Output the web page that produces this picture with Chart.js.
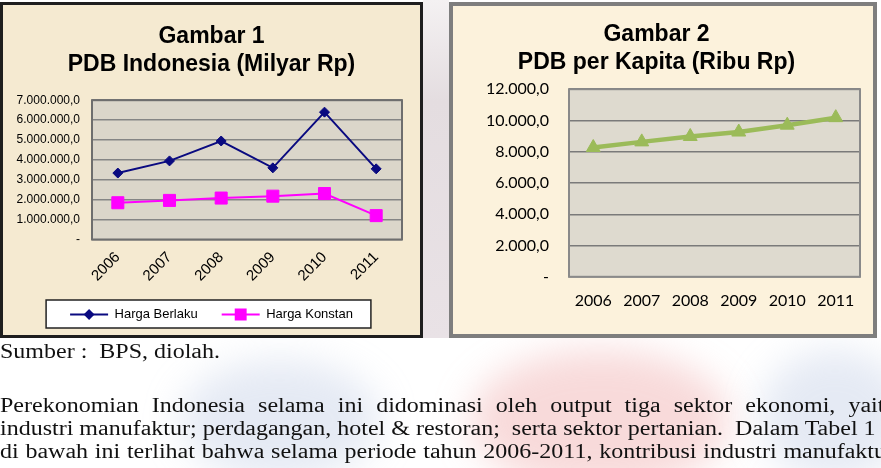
<!DOCTYPE html>
<html>
<head>
<meta charset="utf-8">
<script src="https://cdn.jsdelivr.net/npm/chart.js@4.4.1/dist/chart.umd.min.js"></script>
<style>
  html, body { margin: 0; padding: 0; }
  body {
    width: 881px; height: 468px; overflow: hidden; position: relative;
    background: #fff;
  }
  .wm { position: absolute; border-radius: 50%; filter: blur(18px); }
  .box { position: absolute; box-sizing: border-box; }
  #box1 { left: 0; top: 2px; width: 423px; height: 336px; border: 3px solid #1e1e1e; background: #f5ead1; }
  #box2 { left: 449px; top: 2px; width: 428px; height: 336px; border: 4px solid #7e7e7e; background: #fcf2dc; }
  .box canvas { display: block; }
  .txt { position: absolute; left: 0; font-family: "Liberation Serif", "Times New Roman", serif; font-size: 20px; line-height: 23px; color: #111; white-space: nowrap; transform: scaleX(1.2); transform-origin: 0 0; }
  .just { text-align: justify; text-align-last: justify; white-space: normal; }
</style>
</head>
<body>
<div class="wm" style="left:423px;top:0;width:26px;height:338px;background:linear-gradient(#f4f1f2,#e4dde0 30%,#e9e2e6);border-radius:0;filter:none"></div>
<div class="wm" style="left:470px;top:350px;width:260px;height:140px;background:rgba(235,150,150,0.35)"></div>
<div class="wm" style="left:180px;top:360px;width:200px;height:120px;background:rgba(170,185,220,0.30)"></div>
<div class="wm" style="left:760px;top:350px;width:150px;height:130px;background:rgba(170,185,220,0.30)"></div>

<div class="box" id="box1"><canvas id="c1" width="417" height="330"></canvas></div>
<div class="box" id="box2"><canvas id="c2" width="420" height="328"></canvas></div>

<div class="txt" style="top:340px">Sumber :&nbsp; BPS, diolah.</div>
<div class="txt just" style="top:394px;width:747px">Perekonomian Indonesia selama ini didominasi oleh output tiga sektor ekonomi, yaitu</div>
<div class="txt" style="top:417px">industri manufaktur; perdagangan, hotel &amp; restoran;&nbsp; serta sektor pertanian.&nbsp; Dalam Tabel 1</div>
<div class="txt just" style="top:440px;width:745px">di bawah ini terlihat bahwa selama periode tahun 2006-2011, kontribusi industri manufaktur</div>

<script>
const years = ['2006', '2007', '2008', '2009', '2010', '2011'];
const hargaBerlaku = [3339000, 3950000, 4950000, 3600000, 6400000, 3550000];
const hargaKonstan = [1847000, 1964000, 2082000, 2178000, 2310000, 1200000];
const perKapita = [8270, 8630, 8975, 9260, 9700, 10180];

function fmt(v) {
  if (v === 0) return '-';
  return Math.round(v).toString().replace(/\B(?=(\d{3})+(?!\d))/g, '.') + ',0';
}

// plot area background + frame
const plotBox = {
  id: 'plotBox',
  beforeDraw(chart, args, opts) {
    const a = chart.chartArea, ctx = chart.ctx;
    ctx.save();
    ctx.fillStyle = opts.fill;
    ctx.fillRect(a.left, a.top, a.right - a.left, a.bottom - a.top);
    ctx.restore();
  },
  beforeDatasetsDraw(chart, args, opts) {
    const a = chart.chartArea, ctx = chart.ctx;
    ctx.save();
    ctx.strokeStyle = opts.stroke;
    ctx.lineWidth = opts.width;
    ctx.strokeRect(a.left, a.top, a.right - a.left, a.bottom - a.top);
    ctx.restore();
  }
};

// excel-like legend: line through marker, framed box
function legendRect(hb) {
  const last = hb[hb.length - 1];
  return {
    l: hb[0].left - 24,
    r: last.left + last.width + 18,
    t: hb[0].top - 8,
    b: hb[0].top + hb[0].height + 7
  };
}
const legendFrame = {
  id: 'legendFrame',
  beforeDraw(chart) {
    const lg = chart.legend;
    if (!lg || !lg.legendHitBoxes || !lg.legendHitBoxes.length) return;
    const r = legendRect(lg.legendHitBoxes), ctx = chart.ctx;
    ctx.save();
    ctx.fillStyle = '#fff';
    ctx.fillRect(r.l, r.t, r.r - r.l, r.b - r.t);
    ctx.restore();
  },
  afterDraw(chart) {
    const lg = chart.legend;
    if (!lg || !lg.legendHitBoxes || !lg.legendHitBoxes.length) return;
    const ctx = chart.ctx;
    const hb = lg.legendHitBoxes;
    ctx.save();
    hb.forEach((b, i) => {
      const ds = chart.data.datasets[i];
      const y = b.top + b.height / 2;
      ctx.strokeStyle = ds.borderColor;
      ctx.lineWidth = 2;
      ctx.beginPath();
      ctx.moveTo(b.left, y);
      ctx.lineTo(b.left + 38, y);
      ctx.stroke();
      ctx.fillStyle = ds.backgroundColor;
      Chart.helpers.drawPoint(ctx, {
        pointStyle: ds.pointStyle, radius: ds.legendRadius, rotation: 0, borderWidth: 1
      }, b.left + 19, y);
    });
    const r = legendRect(hb);
    ctx.strokeStyle = '#222';
    ctx.lineWidth = 1.5;
    ctx.strokeRect(r.l, r.t, r.r - r.l, r.b - r.t);
    ctx.restore();
  }
};

const arial = "'Liberation Sans', Arial, sans-serif";

new Chart(document.getElementById('c1'), {
  type: 'line',
  data: {
    labels: years,
    datasets: [{
      label: 'Harga Berlaku',
      data: hargaBerlaku,
      borderColor: '#0a0a80',
      backgroundColor: '#0a0a80',
      borderWidth: 2,
      pointStyle: 'rectRot',
      pointRadius: 5,
      legendRadius: 4,
      pointBorderWidth: 1,
      tension: 0
    }, {
      label: 'Harga Konstan',
      data: hargaKonstan,
      borderColor: '#ff00ff',
      backgroundColor: '#ff00ff',
      borderWidth: 2,
      pointStyle: 'rect',
      pointRadius: 8.5,
      legendRadius: 7,
      pointBorderWidth: 1,
      tension: 0
    }]
  },
  options: {
    responsive: false,
    animation: false,
    devicePixelRatio: 1,
    layout: { padding: { left: 0, right: 0, top: 0, bottom: 4 } },
    scales: {
      x: {
        offset: true,
        grid: { display: false, drawTicks: false },
        border: { display: false },
        ticks: { color: '#000', font: { family: arial, size: 15 }, minRotation: 45, maxRotation: 45, padding: 9 },
        afterFit(s) { s.height = 44.5; }
      },
      y: {
        min: 0, max: 7000000,
        grid: { color: '#858585', lineWidth: 1.5, drawTicks: false },
        border: { display: false },
        ticks: { stepSize: 1000000, color: '#000', font: { family: arial, size: 12 }, padding: 12, callback: v => fmt(v) },
        afterFit(s) { s.width = 89; }
      },
      // empty spacer on the right so the legend stays centred on the whole frame
      yR: {
        type: 'linear', position: 'right',
        grid: { display: false, drawTicks: false },
        border: { display: false },
        ticks: { display: false },
        afterFit(s) { s.width = 18; }
      }
    },
    plugins: {
      plotBox: { fill: '#dbd6ca', stroke: '#6e6e6e', width: 2 },
      title: {
        display: true,
        text: ['Gambar 1', 'PDB Indonesia (Milyar Rp)'],
        color: '#000',
        font: { family: arial, size: 23, weight: 'bold', lineHeight: 1.2 },
        padding: { top: 18, bottom: 22 }
      },
      legend: {
        display: true,
        position: 'bottom',
        labels: {
          color: '#000',
          font: { family: arial, size: 13 },
          boxWidth: 38, boxHeight: 10,
          padding: 24,
          generateLabels: chart => chart.data.datasets.map((d, i) => ({
            text: d.label, fillStyle: 'rgba(0,0,0,0)', strokeStyle: 'rgba(0,0,0,0)', lineWidth: 0, datasetIndex: i
          }))
        }
      },
      tooltip: { enabled: false }
    }
  },
  plugins: [plotBox, legendFrame]
});

new Chart(document.getElementById('c2'), {
  type: 'line',
  data: {
    labels: years,
    datasets: [{
      label: 'PDB per Kapita',
      data: perKapita,
      borderColor: '#9bbb59',
      backgroundColor: '#9bbb59',
      borderWidth: 4.5,
      pointStyle: 'triangle',
      pointRadius: 8,
      pointBorderWidth: 1,
      tension: 0
    }]
  },
  options: {
    responsive: false,
    animation: false,
    devicePixelRatio: 1,
    layout: { padding: { left: 0, right: 13, top: 0, bottom: 10 } },
    scales: {
      x: {
        offset: true,
        grid: { display: false, drawTicks: false },
        border: { display: false },
        ticks: { color: '#000', font: { family: 'Lato', size: 16 }, maxRotation: 0, autoSkip: false, padding: 14 }
      },
      y: {
        min: 0, max: 12000,
        grid: { color: '#7a7a7a', lineWidth: 1.5, drawTicks: false },
        border: { display: false },
        ticks: { stepSize: 2000, color: '#000', font: { family: 'Lato', size: 16 }, padding: 20, callback: v => fmt(v) },
        afterFit(s) { s.width = 116; }
      }
    },
    plugins: {
      plotBox: { fill: '#dedacf', stroke: '#8a8a8a', width: 2 },
      title: {
        display: true,
        text: ['Gambar 2', 'PDB per Kapita (Ribu Rp)'],
        color: '#000',
        font: { family: arial, size: 23, weight: 'bold', lineHeight: 1.2 },
        padding: { top: 15, bottom: 13 }
      },
      legend: { display: false },
      tooltip: { enabled: false }
    }
  },
  plugins: [plotBox]
});
</script>
</body>
</html>
